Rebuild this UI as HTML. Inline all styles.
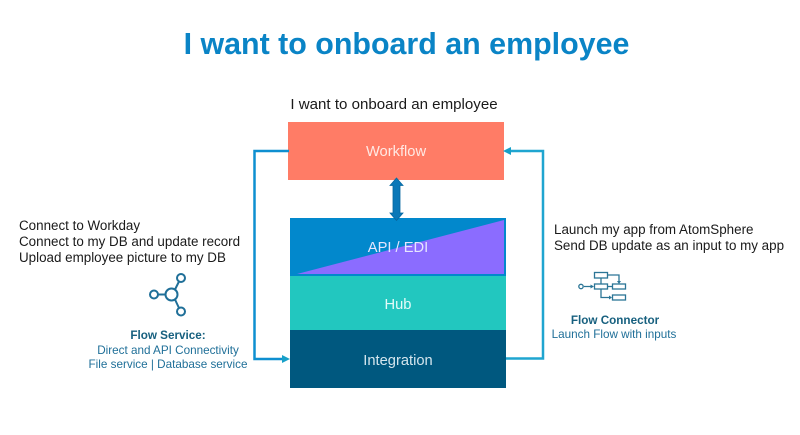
<!DOCTYPE html>
<html><head><meta charset="utf-8"><style>
html,body{margin:0;padding:0;background:#fff}
svg{display:block}
text{font-family:"Liberation Sans",sans-serif}
</style></head><body>
<svg width="800" height="435" viewBox="0 0 800 435" xmlns="http://www.w3.org/2000/svg">
<rect width="800" height="435" fill="#fff"/>
<text x="406.500" y="54" text-anchor="middle" font-size="30.400" font-weight="bold" fill="#0a84c6">I want to onboard an employee</text>
<text x="394" y="109" text-anchor="middle" font-size="15.100" fill="#1a1a1a">I want to onboard an employee</text>

<rect x="288" y="122" width="216" height="58" fill="#ff7c66"/>
<text x="396" y="156" text-anchor="middle" font-size="14.700" fill="#ffe9e4">Workflow</text>

<rect x="290" y="218" width="216" height="58" fill="#0288cc"/>
<polygon points="297,274 504,220 504,274" fill="#8b6cff"/>
<rect x="290" y="276" width="216" height="54" fill="#22c7bf"/>
<rect x="290" y="330" width="216" height="58" fill="#00587f"/>
<text x="398" y="252" text-anchor="middle" font-size="14.700" fill="#e6e6ff">API / EDI</text>
<text x="398" y="309" text-anchor="middle" font-size="14.700" fill="#e4fbf9">Hub</text>
<text x="398" y="365" text-anchor="middle" font-size="14.700" fill="#d5e6ee">Integration</text>

<path d="M396.500 178 L403 185.500 L400 185.500 L400 213 L403 213 L396.500 220.500 L390 213 L393 213 L393 185.500 L390 185.500 Z" fill="#0a78b8" stroke="#0667a0" stroke-width="0.800"/>

<path d="M289 151 H254.500 V359 H285" fill="none" stroke="#0e8fd0" stroke-width="2.500"/>
<polygon points="290,359 282,355 282,363" fill="#17a0c8"/>
<path d="M506 358.500 H543 V151 H509" fill="none" stroke="#1fa5d0" stroke-width="2.500"/>
<polygon points="503,151 511,147 511,155" fill="#17a0c8"/>

<g font-size="13.400" fill="#1a1a1a">
<text x="19" y="230">Connect to Workday</text>
<text x="19" y="246">Connect to my DB and update record</text>
<text x="19" y="262">Upload employee picture to my DB</text>
<text x="554" y="234">Launch my app from AtomSphere</text>
<text x="554" y="250">Send DB update as an input to my app</text>
</g>

<g fill="none" stroke="#1f6f98" stroke-width="2">
<circle cx="171.500" cy="294.500" r="6"/>
<circle cx="154" cy="294.500" r="4"/>
<circle cx="181" cy="278" r="4"/>
<circle cx="181" cy="311.500" r="4"/>
<path d="M158 294.500 H165.500 M175 289.500 L179 281.500 M175 299.500 L179 308"/>
</g>

<g font-size="11.700" fill="#1f6f98" text-anchor="middle">
<text x="168" y="339" font-weight="bold" fill="#17607f">Flow Service:</text>
<text x="168" y="354">Direct and API Connectivity</text>
<text x="168" y="368">File service | Database service</text>
</g>

<g fill="none" stroke="#2b7596" stroke-width="1.300">
<rect x="594.500" y="272.500" width="13" height="5.500"/>
<rect x="594.500" y="284" width="13" height="5"/>
<rect x="612.500" y="284" width="13" height="5"/>
<rect x="612.500" y="295" width="13" height="5"/>
<circle cx="581" cy="286.500" r="2.200"/>
<path d="M584 286.500 H592 M601 278 V284 M608 275 H619 V282 M608 286.500 H612 M601 289 V297.500 H610"/>
</g>
<g fill="#2b7596">
<polygon points="594,286.500 590.500,284.500 590.500,288.500"/>
<polygon points="619,284 617,281 621,281"/>
<polygon points="612,297.500 609,295.500 609,299.500"/>
</g>

<g font-size="11.700" text-anchor="middle">
<text x="615" y="324" font-weight="bold" fill="#17607f">Flow Connector</text>
<text x="614" y="338" fill="#1f6f98">Launch Flow with inputs</text>
</g>
</svg>
</body></html>
